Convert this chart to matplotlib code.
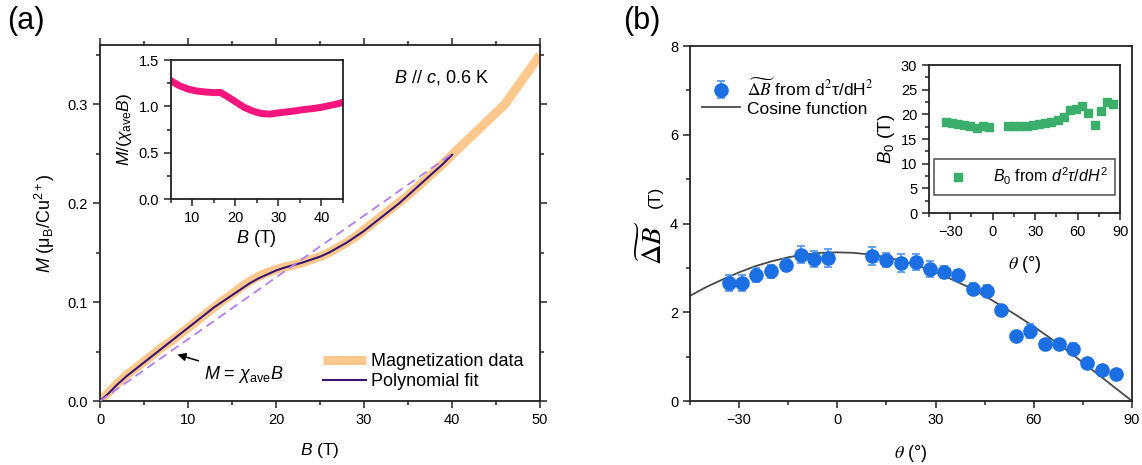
import numpy as np
import matplotlib
matplotlib.use("Agg")
import matplotlib.pyplot as plt
from matplotlib.ticker import MultipleLocator

plt.rcParams['font.family'] = ['Liberation Sans', 'DejaVu Sans']
plt.rcParams['mathtext.fontset'] = 'custom'
plt.rcParams['mathtext.rm'] = 'Liberation Sans'
plt.rcParams['mathtext.it'] = 'Liberation Sans:italic'
plt.rcParams['mathtext.bf'] = 'Liberation Sans:bold'

# ---------------- data: panel (a) ----------------
B_data = [0, 1, 2, 3, 4, 5, 6, 7, 8, 9, 10, 11, 12, 13, 14, 15, 16, 17, 18, 19, 20,
          21, 22, 23, 24, 25, 26, 27, 28, 29, 30, 31, 32, 33, 34, 35, 36, 37, 38, 39, 40,
          42, 44, 46, 48, 50]
M_data = [0.0, 0.009, 0.018, 0.026, 0.033, 0.040, 0.047, 0.054, 0.060, 0.067, 0.074,
          0.081, 0.088, 0.095, 0.102, 0.108, 0.115, 0.121, 0.126, 0.130, 0.133,
          0.1355, 0.1375, 0.140, 0.143, 0.146, 0.150, 0.155, 0.160, 0.166, 0.173,
          0.180, 0.187, 0.194, 0.201, 0.208, 0.216, 0.224, 0.232, 0.240, 0.249,
          0.266, 0.283, 0.300, 0.325, 0.350]
B_fit = [0, 1, 2, 3, 4, 5, 6, 7, 8, 9, 10, 11, 12, 13, 14, 15, 16, 17, 18, 19, 20,
         21, 22, 23, 24, 25, 26, 27, 28, 29, 30, 31, 32, 33, 34, 35, 36, 37, 38, 39, 40]
M_fit = [0.0, 0.008, 0.017, 0.025, 0.032, 0.039, 0.046, 0.053, 0.060, 0.067, 0.074,
         0.081, 0.088, 0.095, 0.101, 0.107, 0.113, 0.119, 0.124, 0.128, 0.132,
         0.135, 0.1375, 0.140, 0.143, 0.146, 0.150, 0.155, 0.160, 0.166, 0.172,
         0.179, 0.186, 0.193, 0.200, 0.208, 0.216, 0.224, 0.232, 0.240, 0.249]
B_lin = [0, 40]
M_lin = [0.0, 0.250]

B_ratio = [5, 7, 9, 11, 13, 15, 16.5, 18, 20, 22, 24, 26, 28, 30, 32, 34, 36, 38, 40, 42, 44, 45]
ratio = [1.276, 1.222, 1.186, 1.165, 1.155, 1.148, 1.150, 1.11, 1.05, 0.99, 0.95, 0.923,
         0.916, 0.93, 0.94, 0.952, 0.966, 0.976, 0.99, 1.01, 1.03, 1.045]

# ---------------- data: panel (b) ----------------
theta = [-33.1, -29.0, -24.7, -20.3, -15.7, -11.2, -7.0, -2.7, 10.5, 14.9, 19.4, 23.9,
         28.3, 32.6, 37.0, 41.4, 45.8, 50.1, 54.5, 58.9, 63.3, 67.6, 72.0, 76.4, 80.8, 85.1]
dB = [2.65, 2.67, 2.84, 2.92, 3.06, 3.30, 3.19, 3.23, 3.26, 3.18, 3.11, 3.14,
      2.97, 2.91, 2.83, 2.53, 2.48, 2.05, 1.46, 1.58, 1.28, 1.29, 1.18, 0.86, 0.69, 0.60]
dB_err = [0.18, 0.18, 0.15, 0.15, 0.14, 0.20, 0.18, 0.20, 0.20, 0.16, 0.20, 0.18,
          0.18, 0.14, 0.12, 0.12, 0.14, 0.10, 0.05, 0.15, 0.05, 0.08, 0.12, 0.05, 0.04, 0.04]
theta_cos = [-45, -40, -35, -30, -25, -20, -15, -10, -5, 0, 5, 10, 15, 20, 25, 30, 35,
             40, 45, 50, 55, 60, 65, 70, 75, 80, 85, 90]
dB_cos = [2.37, 2.57, 2.74, 2.90, 3.04, 3.15, 3.24, 3.30, 3.34, 3.35, 3.34, 3.30, 3.24,
          3.15, 3.04, 2.90, 2.74, 2.57, 2.37, 2.15, 1.92, 1.68, 1.42, 1.15, 0.87, 0.58,
          0.29, 0.00]
B0 = [18.4, 18.3, 18.0, 17.8, 17.6, 17.3, 17.7, 17.5, 17.6, 17.6, 17.7, 17.7,
      17.9, 18.0, 18.2, 18.5, 18.8, 19.5, 20.9, 21.1, 21.7, 20.2, 17.9, 20.7, 22.6, 22.1]

# ---------------- figure ----------------
fig = plt.figure(figsize=(11.42, 4.65), dpi=100)
tick_fs = 10.5

def style(ax, top_right=False):
    for s in ax.spines.values():
        s.set_linewidth(1.3)
        s.set_color('#222222')
    ax.tick_params(which='both', direction='out', labelsize=tick_fs, width=1.1,
                   top=top_right, right=top_right, color='#222222')
    ax.tick_params(which='major', length=5)
    ax.tick_params(which='minor', length=3)

# panel (a)
axa = fig.add_axes([0.0876, 0.1376, 0.3853, 0.7656])
axa.plot(B_data, M_data, color='#FDC88E', lw=6.5, solid_capstyle='butt',
         label='Magnetization data', zorder=2)
axa.plot(B_fit, M_fit, color='#3A1670', lw=1.5, label='Polynomial fit', zorder=3)
axa.plot(B_lin, M_lin, color='#B27EF2', lw=1.3, ls=(0, (5, 3)), zorder=4)
axa.set_xlim(0, 50)
axa.set_ylim(0, 0.36)
axa.xaxis.set_major_locator(MultipleLocator(10))
axa.xaxis.set_minor_locator(MultipleLocator(5))
axa.yaxis.set_major_locator(MultipleLocator(0.1))
axa.yaxis.set_minor_locator(MultipleLocator(0.05))
style(axa, top_right=True)
axa.set_xlabel(r'$B$ (T)', fontsize=12.5, labelpad=10)
axa.set_ylabel(r'$M$ ($\mathrm{\mu_B}$/Cu$^{2+}$)', fontsize=13, labelpad=8)
axa.text(33.4, 0.327, r'$B$ // $c$, 0.6 K', fontsize=13, va='center', ha='left')
axa.annotate(r'$M$ = $\chi_{\mathrm{ave}}B$', xy=(8.8, 0.047), xytext=(11.8, 0.027),
             fontsize=13, va='center', ha='left',
             arrowprops=dict(arrowstyle='-|>', color='black', lw=1.1,
                             shrinkA=2, shrinkB=0, mutation_scale=12))
leg = axa.legend(loc='lower right', bbox_to_anchor=(1.0, -0.015), frameon=False,
                 fontsize=13, handlelength=2.4, handletextpad=0.3, labelspacing=0.15)

# inset (a)
axai = fig.add_axes([0.1497, 0.572, 0.1506, 0.2989])
axai.plot(B_ratio, ratio, color='#F5157C', lw=5)
axai.set_xlim(5, 45)
axai.set_ylim(0, 1.5)
axai.xaxis.set_major_locator(MultipleLocator(10))
axai.xaxis.set_minor_locator(MultipleLocator(5))
axai.yaxis.set_major_locator(MultipleLocator(0.5))
axai.yaxis.set_minor_locator(MultipleLocator(0.25))
style(axai)
axai.set_xlabel(r'$B$ (T)', fontsize=13, labelpad=2)
axai.set_ylabel(r'$M$/($\chi_{\mathrm{ave}}B$)', fontsize=12.5, labelpad=3)

# panel (b)
axb = fig.add_axes([0.6042, 0.1376, 0.3870, 0.7634])
axb.plot(theta_cos, dB_cos, color='#4A4A4A', lw=1.3, label='Cosine function', zorder=2)
axb.errorbar(theta, dB, yerr=dB_err, fmt='o', color='#1B6FE2', ms=9.5,
             ecolor='#4F94EE', elinewidth=1.2, capsize=3, capthick=1.2,
             label=r'$\widetilde{\Delta B}$ from d$^{2}$τ/dH$^{2}$', zorder=3)
axb.set_xlim(-45, 90)
axb.set_ylim(0, 8)
axb.xaxis.set_major_locator(MultipleLocator(30))
axb.xaxis.set_minor_locator(MultipleLocator(15))
axb.yaxis.set_major_locator(MultipleLocator(2))
axb.yaxis.set_minor_locator(MultipleLocator(1))
style(axb)
axb.set_xlabel(r'$\theta$ (°)', fontsize=13, labelpad=12, math_fontfamily='stix')
fig.text(0.5715, 0.478, r'$\widetilde{\Delta B}$', rotation=90, fontsize=20.5,
         ha='center', va='center', math_fontfamily='stix')
fig.text(0.5735, 0.577, '(T)', rotation=90, fontsize=12.5, ha='center', va='center')
h, l = axb.get_legend_handles_labels()
legb = axb.legend([h[1], h[0]], [l[1], l[0]], loc='upper left',
                  bbox_to_anchor=(0.0, 0.945), frameon=False, fontsize=12.5,
                  handlelength=2.2, handletextpad=0.4, labelspacing=0.15,
                  borderaxespad=0.3)
for t in legb.get_texts():
    t.set_math_fontfamily('stix')

# inset (b)
axbi = fig.add_axes([0.8135, 0.5419, 0.1673, 0.3183])
axbi.plot(theta, B0, 's', color='#3AAE6A', ms=6,
          label=r'$B_0$ from $d^2\tau/dH^2$')
axbi.set_xlim(-45, 90)
axbi.set_ylim(0, 30)
axbi.xaxis.set_major_locator(MultipleLocator(30))
axbi.xaxis.set_minor_locator(MultipleLocator(15))
axbi.yaxis.set_major_locator(MultipleLocator(5))
axbi.yaxis.set_minor_locator(MultipleLocator(2.5))
style(axbi)
axbi.set_xlabel(r'$\theta$ (°)', fontsize=13, labelpad=11, math_fontfamily='stix')
axbi.set_ylabel(r'$B_0$ (T)', fontsize=13.5, labelpad=3)
legi = axbi.legend(loc='lower center', bbox_to_anchor=(0.5, 0.07), fontsize=11.5,
                   frameon=True, fancybox=False, edgecolor='#222222',
                   handletextpad=1.2, borderpad=0.45)
legi.get_frame().set_linewidth(1.1)

fig.text(0.006, 0.955, '(a)', fontsize=22, ha='left', va='center')
fig.text(0.546, 0.955, '(b)', fontsize=22, ha='left', va='center')

fig.savefig('out.png', dpi=100)
